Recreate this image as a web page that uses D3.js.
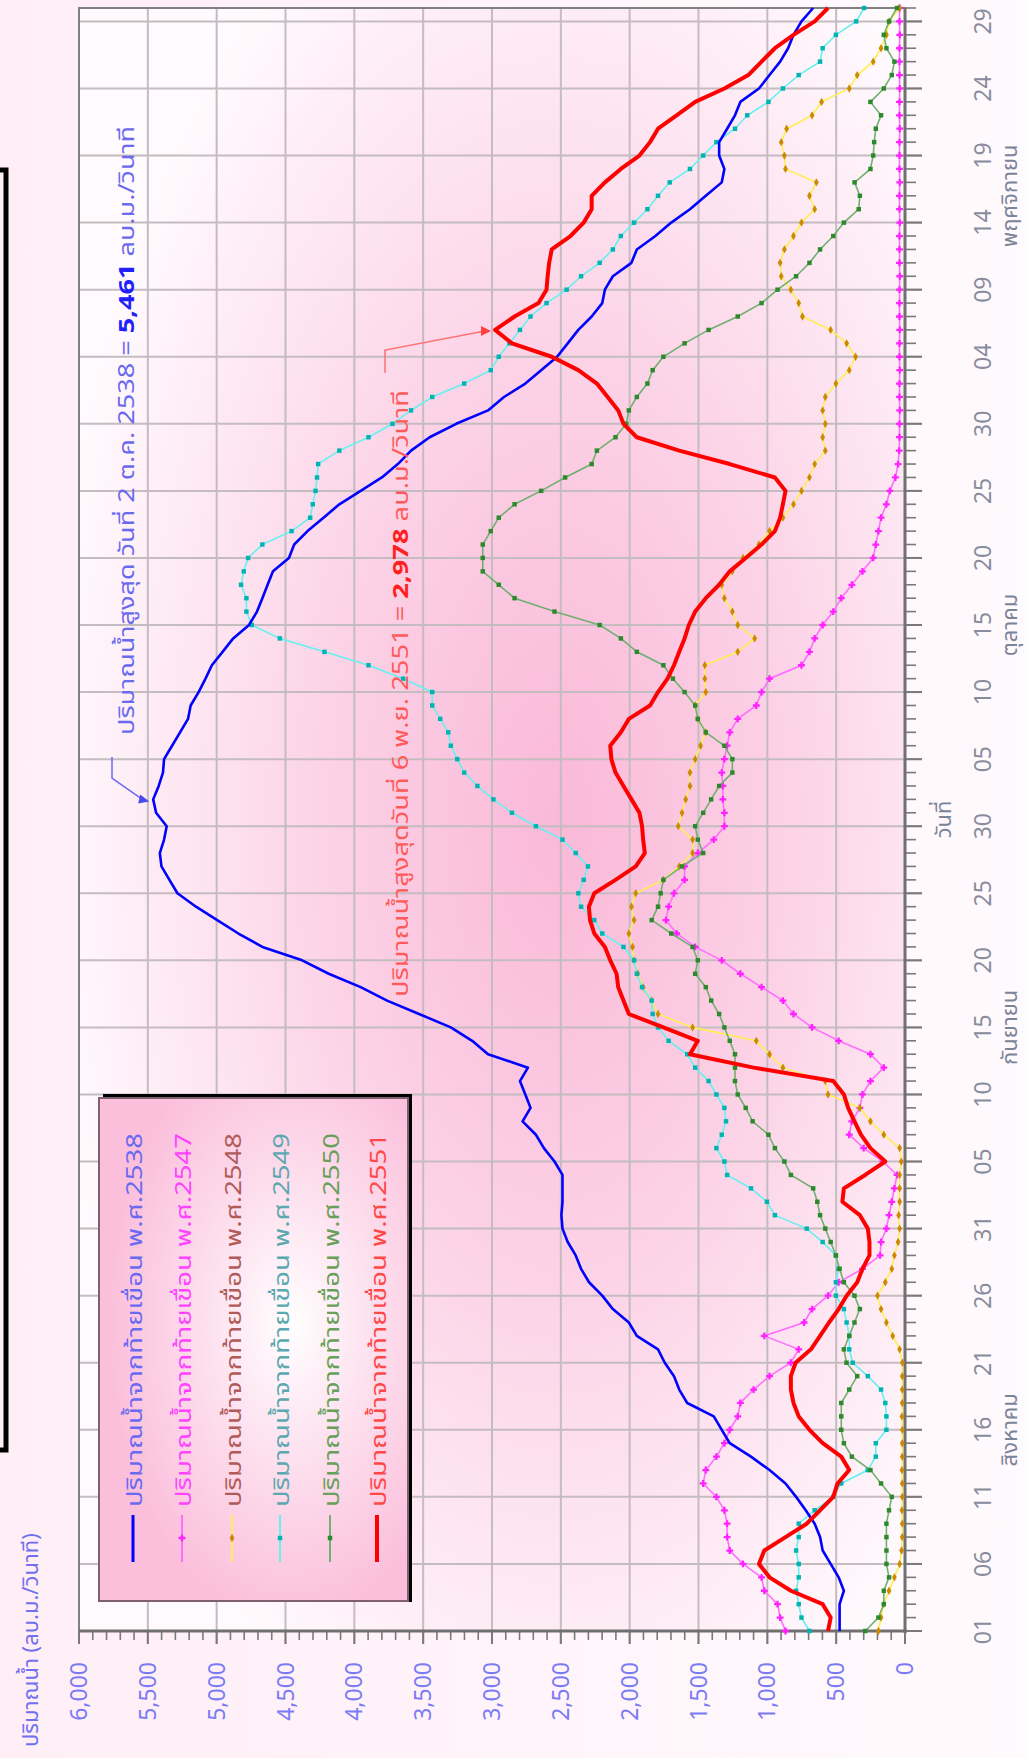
<!DOCTYPE html>
<html>
<head>
<meta charset="utf-8">
<script src="https://cdn.jsdelivr.net/npm/d3@7"></script>
<style>
  body { margin: 0; background: #fff7fb; }
  svg { display: block; }
  text { font-family: Tahoma, "Noto Sans Thai", "Noto Sans", "DejaVu Sans", sans-serif; }
</style>
</head>
<body>
<svg id="chart"></svg>
<script>
// Page size
const width = 1028;
const height = 1758;

// Series: daily discharge below the dam, index 0 = 1 Aug ... 121 = 30 Nov
const q2538 = [475, 475, 475, 444, 482, 540, 598, 617, 656, 721,
  791, 868, 984, 1119, 1273, 1331, 1389, 1582, 1640, 1678,
  1745, 1794, 1948, 2006, 2122, 2199, 2295, 2353, 2392, 2450,
  2488, 2496, 2488, 2488, 2488, 2546, 2623, 2681, 2778, 2720,
  2758, 2797, 2739, 3029, 3144, 3299, 3530, 3762, 3954, 4186,
  4379, 4668, 4842, 4996, 5150, 5285, 5343, 5401, 5413, 5382,
  5363, 5440, 5461, 5421, 5390, 5382, 5324, 5266, 5208, 5189,
  5131, 5081, 5035, 4957, 4880, 4765, 4707, 4668, 4630, 4591,
  4475, 4437, 4340, 4224, 4109, 3954, 3800, 3684, 3588, 3453,
  3260, 3029, 2913, 2758, 2643, 2527, 2450, 2373, 2276, 2199,
  2180, 2122, 1987, 1948, 1813, 1698, 1562, 1447, 1331, 1312,
  1350, 1350, 1292, 1235, 1196, 1061, 984, 907, 849, 810,
  752, 667];
const q2547 = [868, 907, 926, 1022, 1042, 1177, 1273, 1292, 1292, 1312,
  1370, 1466, 1447, 1370, 1312, 1273, 1215, 1196, 1100, 984,
  830, 772, 1022, 733, 675, 559, 482, 309, 181, 174,
  135, 116, 96, 77, 58, 160, 300, 405, 386, 328,
  309, 251, 154, 251, 482, 675, 810, 887, 1042, 1196,
  1331, 1524, 1659, 1736, 1717, 1678, 1601, 1601, 1505, 1389,
  1312, 1312, 1323, 1323, 1331, 1312, 1292, 1273, 1215, 1080,
  1042, 984, 752, 694, 656, 598, 521, 463, 386, 309,
  231, 212, 193, 174, 135, 110, 70, 50, 42, 40,
  40, 38, 40, 40, 38, 40, 40, 38, 40, 40,
  40, 38, 40, 40, 40, 38, 40, 40, 38, 40,
  40, 40, 38, 40, 40, 38, 40, 40, 40, 38,
  40, 40];
const q2548 = [193, 174, 154, 116, 77, 39, 25, 20, 20, 22,
  20, 20, 22, 20, 20, 20, 22, 20, 20, 20,
  19, 39, 89, 135, 174, 200, 143, 96, 77, 50,
  39, 46, 39, 39, 39, 27, 39, 154, 251, 328,
  559, 579, 887, 984, 1080, 1543, 1794, 1840, 1902, 1941,
  1968, 1979, 2006, 1968, 1987, 1956, 1755, 1640, 1543, 1543,
  1647, 1620, 1593, 1562, 1562, 1524, 1485, 1447, 1505, 1524,
  1447, 1454, 1454, 1215, 1092, 1215, 1254, 1312, 1331, 1254,
  1177, 1061, 984, 887, 810, 752, 694, 656, 579, 598,
  579, 598, 579, 502, 405, 359, 424, 540, 745, 772,
  829, 899, 907, 876, 810, 752, 656, 694, 644, 868,
  876, 899, 860, 675, 606, 405, 347, 231, 174, 135,
  116, 39];
const q2549 = [694, 752, 772, 791, 772, 772, 791, 772, 772, 656,
  521, 463, 270, 212, 212, 135, 135, 143, 174, 270,
  380, 405, 405, 424, 444, 502, 502, 482, 502, 598,
  714, 945, 1003, 1119, 1292, 1312, 1370, 1331, 1300, 1312,
  1370, 1427, 1524, 1582, 1717, 1794, 1833, 1840, 1910, 1948,
  1968, 2045, 2199, 2257, 2353, 2373, 2334, 2303, 2392, 2488,
  2681, 2855, 2990, 3106, 3202, 3252, 3299, 3318, 3376, 3434,
  3434, 3646, 3897, 4217, 4541, 4745, 4784, 4784, 4823, 4803,
  4772, 4668, 4456, 4321, 4302, 4282, 4271, 4263, 4109, 3897,
  3723, 3588, 3434, 3202, 3009, 2951, 2874, 2797, 2720, 2604,
  2458, 2353, 2218, 2122, 2064, 1968, 1871, 1794, 1709, 1562,
  1466, 1370, 1235, 1146, 992, 887, 772, 617, 598, 502,
  355, 297];
const q2550 = [289, 193, 154, 154, 116, 135, 135, 135, 135, 116,
  96, 174, 251, 386, 444, 463, 463, 463, 405, 347,
  425, 444, 405, 367, 328, 367, 444, 475, 502, 540,
  579, 617, 637, 667, 829, 876, 945, 992, 1107, 1157,
  1215, 1235, 1235, 1235, 1273, 1312, 1350, 1408, 1447, 1524,
  1505, 1543, 1698, 1840, 1794, 1775, 1755, 1620, 1466, 1505,
  1524, 1466, 1408, 1350, 1254, 1254, 1312, 1447, 1505, 1524,
  1601, 1686, 1755, 1948, 2064, 2218, 2546, 2836, 2951, 3067,
  3067, 3067, 3009, 2951, 2836, 2643, 2469, 2276, 2238, 2103,
  2025, 2006, 1948, 1871, 1833, 1755, 1601, 1427, 1215, 1042,
  926, 791, 694, 617, 521, 444, 336, 328, 366, 251,
  231, 224, 212, 174, 251, 154, 96, 77, 135, 154,
  116, 58];
const q2551 = [559, 540, 598, 829, 984, 1061, 1022, 868, 714, 617,
  521, 490, 405, 463, 598, 694, 772, 810, 829, 829,
  795, 683, 617, 552, 482, 424, 347, 309, 258, 258,
  270, 328, 455, 444, 289, 143, 251, 320, 367, 413,
  444, 521, 1100, 1562, 1505, 1755, 2006, 2045, 2083, 2095,
  2141, 2180, 2257, 2288, 2296, 2257, 2103, 1956, 1890, 1902,
  1910, 1929, 1987, 2045, 2103, 2133, 2141, 2064, 2006, 1852,
  1794, 1725, 1678, 1640, 1601, 1570, 1524, 1447, 1350, 1273,
  1157, 1042, 945, 907, 887, 868, 945, 1273, 1640, 1948,
  2045, 2083, 2160, 2238, 2373, 2566, 2855, 2978, 2836, 2662,
  2604, 2596, 2585, 2566, 2430, 2334, 2276, 2276, 2180, 2064,
  1929, 1852, 1794, 1659, 1524, 1312, 1138, 1042, 945, 810,
  656, 559];

// Tick labels (one every 5 days)
const dayTickLabels = ["01", "06", "11", "16", "21", "26", "31",
  "05", "10", "15", "20", "25", "30",
  "05", "10", "15", "20", "25", "30",
  "04", "09", "14", "19", "24", "29"];
const monthNames = ["สิงหาคม", "กันยายน", "ตุลาคม", "พฤศจิกายน"];
const monthCenters = [15, 45, 75, 107];
const valueTicks = [0, 500, 1000, 1500, 2000, 2500, 3000, 3500, 4000, 4500, 5000, 5500, 6000];
const seriesNames = ["ปริมาณน้ำจากท้ายเขื่อน พ.ศ.2538", "ปริมาณน้ำจากท้ายเขื่อน พ.ศ.2547",
  "ปริมาณน้ำจากท้ายเขื่อน พ.ศ.2548", "ปริมาณน้ำจากท้ายเขื่อน พ.ศ.2549",
  "ปริมาณน้ำจากท้ายเขื่อน พ.ศ.2550", "ปริมาณน้ำจากท้ายเขื่อน พ.ศ.2551"];

// Styles per series (line colour, marker colour, width, marker)
const styles = [
  { data: q2538, line: "#0000ff", mark: null, w: 2.6, text: "#6a6af0" },
  { data: q2547, line: "#ff6eff", mark: "#ff22ff", w: 1.6, text: "#ff44ff", sym: d3.symbolCross },
  { data: q2548, line: "#ffee55", mark: "#cc8a00", w: 1.6, text: "#b05a5a", sym: d3.symbolDiamond },
  { data: q2549, line: "#66f0f0", mark: "#00b4b4", w: 1.6, text: "#5aa8b0", sym: d3.symbolSquare },
  { data: q2550, line: "#70b070", mark: "#2c8a2c", w: 1.6, text: "#66a05a", sym: d3.symbolSquare },
  { data: q2551, line: "#ff0000", mark: null, w: 4, text: "#ff4848" }
];

const svg = d3.select("#chart").attr("width", width).attr("height", height);

// Plot box (chart is drawn rotated: values run right-to-left, days run bottom-to-top)
const plot = { left: 79, right: 905, top: 8, bottom: 1631 };

const xScale = d3.scaleLinear().domain([0, 6000]).range([plot.right, plot.left]);
const yScale = d3.scaleLinear().domain([0, 121]).range([plot.bottom, plot.top]);

const defs = svg.append("defs");
const pageGrad = defs.append("linearGradient").attr("id", "pageGrad")
  .attr("x1", 0).attr("x2", 1).attr("y1", 0).attr("y2", 0);
pageGrad.append("stop").attr("offset", "0%").attr("stop-color", "#ffeef6");
pageGrad.append("stop").attr("offset", "100%").attr("stop-color", "#fffafd");

const plotGrad = defs.append("radialGradient").attr("id", "plotGrad")
  .attr("cx", "0.58").attr("cy", "0.5").attr("r", "0.62");
plotGrad.append("stop").attr("offset", "0%").attr("stop-color", "#fab8d8");
plotGrad.append("stop").attr("offset", "45%").attr("stop-color", "#fcd2e6");
plotGrad.append("stop").attr("offset", "100%").attr("stop-color", "#fffafd");

const legGrad = defs.append("radialGradient").attr("id", "legGrad")
  .attr("cx", "0.62").attr("cy", "0.45").attr("r", "0.6");
legGrad.append("stop").attr("offset", "0%").attr("stop-color", "#ffffff");
legGrad.append("stop").attr("offset", "45%").attr("stop-color", "#fde0ee");
legGrad.append("stop").attr("offset", "100%").attr("stop-color", "#fbbedb");

// Backgrounds
svg.append("rect").attr("width", width).attr("height", height).attr("fill", "url(#pageGrad)");
svg.append("rect")
  .attr("x", plot.left).attr("y", plot.top)
  .attr("width", plot.right - plot.left).attr("height", plot.bottom - plot.top)
  .attr("fill", "url(#plotGrad)");

// Black frame piece on the far left
svg.append("rect").attr("x", -40).attr("y", 170).attr("width", 46).attr("height", 1280)
  .attr("fill", "none").attr("stroke", "#000").attr("stroke-width", 5);

// Grid lines
const dayMajor = d3.range(0, 121, 5);
svg.append("g").selectAll("line").data(dayMajor).enter().append("line")
  .attr("x1", plot.left).attr("x2", plot.right + 17)
  .attr("y1", d => yScale(d)).attr("y2", d => yScale(d))
  .attr("stroke", "#c4bcc0").attr("stroke-width", 2);
svg.append("g").selectAll("line").data(valueTicks).enter().append("line")
  .attr("x1", d => xScale(d)).attr("x2", d => xScale(d))
  .attr("y1", plot.top).attr("y2", plot.bottom + 13)
  .attr("stroke", "#c4bcc0").attr("stroke-width", 2);

// Minor ticks
svg.append("g").selectAll("line").data(d3.range(0, 122).filter(d => d % 5 !== 0)).enter().append("line")
  .attr("x1", plot.right).attr("x2", plot.right + 11)
  .attr("y1", d => yScale(d)).attr("y2", d => yScale(d))
  .attr("stroke", "#7a7a7a").attr("stroke-width", 1.6);
svg.append("g").selectAll("line").data(d3.range(0, 6001, 100).filter(d => d % 500 !== 0)).enter().append("line")
  .attr("x1", d => xScale(d)).attr("x2", d => xScale(d))
  .attr("y1", plot.bottom).attr("y2", plot.bottom + 9)
  .attr("stroke", "#7a7a7a").attr("stroke-width", 1.6);
svg.append("g").selectAll("line").data(dayMajor).enter().append("line")
  .attr("x1", plot.right).attr("x2", plot.right + 17)
  .attr("y1", d => yScale(d)).attr("y2", d => yScale(d))
  .attr("stroke", "#7a7a7a").attr("stroke-width", 2);
svg.append("g").selectAll("line").data(valueTicks).enter().append("line")
  .attr("x1", d => xScale(d)).attr("x2", d => xScale(d))
  .attr("y1", plot.bottom).attr("y2", plot.bottom + 13)
  .attr("stroke", "#7a7a7a").attr("stroke-width", 2);

// Frame and axes
svg.append("rect")
  .attr("x", plot.left).attr("y", plot.top)
  .attr("width", plot.right - plot.left).attr("height", plot.bottom - plot.top)
  .attr("fill", "none").attr("stroke", "#808080").attr("stroke-width", 2);
svg.append("line").attr("x1", plot.right).attr("x2", plot.right)
  .attr("y1", plot.top).attr("y2", plot.bottom + 2)
  .attr("stroke", "#707070").attr("stroke-width", 3);
svg.append("line").attr("x1", plot.left).attr("x2", plot.right + 2)
  .attr("y1", plot.bottom).attr("y2", plot.bottom)
  .attr("stroke", "#707070").attr("stroke-width", 3);

// Value labels (rotated)
svg.append("g").selectAll("text").data(valueTicks).enter().append("text")
  .attr("transform", d => `translate(${xScale(d) + 8},${plot.bottom + 31}) rotate(-90)`)
  .attr("text-anchor", "end")
  .attr("font-size", 23)
  .attr("fill", "#7b7bf5")
  .text(d3.format(","));

// Day labels
svg.append("g").selectAll("text").data(dayTickLabels).enter().append("text")
  .attr("transform", (d, i) => `translate(${plot.right + 86},${yScale(i * 5)}) rotate(-90)`)
  .attr("text-anchor", "middle")
  .attr("font-size", 23)
  .attr("fill", "#8a8c9c")
  .text(d => d);

// Month names
svg.append("g").selectAll("text").data(monthNames).enter().append("text")
  .attr("transform", (d, i) => `translate(${plot.right + 112},${yScale(monthCenters[i])}) rotate(-90)`)
  .attr("text-anchor", "middle")
  .attr("font-size", 22)
  .attr("fill", "#7c8498")
  .text(d => d);

svg.append("text")
  .attr("transform", `translate(${plot.right + 46},${yScale(60.5)}) rotate(-90)`)
  .attr("text-anchor", "middle")
  .attr("font-size", 22)
  .attr("fill", "#7c8498")
  .text("วันที่");

// Axis title
svg.append("text")
  .attr("transform", `translate(38,1747) rotate(-90)`)
  .attr("font-size", 22)
  .attr("fill", "#7070f0")
  .text("ปริมาณน้ำ (ลบ.ม./วินาที)");

// Lines
const line = d3.line().x(d => xScale(d)).y((d, i) => yScale(i));

styles.forEach((s, k) => {
  if (!s.mark) return;
  svg.append("path").datum(s.data).attr("d", line)
    .attr("fill", "none").attr("stroke", s.line).attr("stroke-width", s.w);
  svg.append("g").selectAll("path").data(s.data).enter().append("path")
    .attr("transform", (d, i) => `translate(${xScale(d)},${yScale(i)})`)
    .attr("d", d3.symbol().type(s.sym).size(k === 1 ? 26 : 20))
    .attr("fill", s.mark);
});
[0, 5].forEach(k => {
  const s = styles[k];
  svg.append("path").datum(s.data).attr("d", line)
    .attr("fill", "none").attr("stroke", s.line).attr("stroke-width", s.w)
    .attr("stroke-linejoin", "round");
});

// Annotations
const blueNote = svg.append("text")
  .attr("transform", "translate(134,735) rotate(-90)")
  .attr("font-size", 22).attr("fill", "#6a6af0")
  .attr("textLength", 609).attr("lengthAdjust", "spacingAndGlyphs");
blueNote.append("tspan").text("ปริมาณน้ำสูงสุด วันที่ 2 ต.ค. 2538 = ");
blueNote.append("tspan").attr("font-weight", "bold").attr("fill", "#2020ff").text("5,461");
blueNote.append("tspan").text(" ลบ.ม./วินาที");

svg.append("polyline")
  .attr("points", `112,757 112,778 ${xScale(5461) - 8},${yScale(62) + 2}`)
  .attr("fill", "none").attr("stroke", "#6a6af0").attr("stroke-width", 1.5);
svg.append("path")
  .attr("d", `M${xScale(5461) - 4},${yScale(62) + 2} l-9,-7 l-2,9 z`)
  .attr("fill", "#4a4af0");

const redNote = svg.append("text")
  .attr("transform", "translate(408,997) rotate(-90)")
  .attr("font-size", 22).attr("fill", "#ff5a5a")
  .attr("textLength", 607).attr("lengthAdjust", "spacingAndGlyphs");
redNote.append("tspan").text("ปริมาณน้ำสูงสุดวันที่ 6 พ.ย. 2551 = ");
redNote.append("tspan").attr("font-weight", "bold").attr("fill", "#ff2020").text("2,978");
redNote.append("tspan").text(" ลบ.ม./วินาที");

svg.append("polyline")
  .attr("points", `385,373 385,350 ${xScale(2978) - 10},${yScale(97) + 1}`)
  .attr("fill", "none").attr("stroke", "#ff7070").attr("stroke-width", 1.5);
svg.append("path")
  .attr("d", `M${xScale(2978) - 4},${yScale(97) + 1} l-10,-5 l0,10 z`)
  .attr("fill", "#ff4040");

// Legend
const legend = svg.append("g");
legend.append("rect").attr("x", 103).attr("y", 1094).attr("width", 309).attr("height", 508)
  .attr("fill", "#000");
legend.append("rect").attr("x", 99).attr("y", 1098).attr("width", 309).attr("height", 503)
  .attr("fill", "url(#legGrad)").attr("stroke", "#806070").attr("stroke-width", 2);

const legX = [133, 182, 232, 280, 330, 377];
styles.forEach((s, k) => {
  legend.append("line")
    .attr("x1", legX[k]).attr("x2", legX[k]).attr("y1", 1515).attr("y2", 1562)
    .attr("stroke", s.line).attr("stroke-width", s.mark ? 2 : (k === 5 ? 4 : 3));
  if (s.mark) {
    legend.append("path").attr("transform", `translate(${legX[k]},1538)`)
      .attr("d", d3.symbol().type(s.sym).size(k === 1 ? 26 : 20))
      .attr("fill", s.mark);
  }
  legend.append("text")
    .attr("transform", `translate(${legX[k] + 9},1507) rotate(-90)`)
    .attr("font-size", 21).attr("fill", s.text)
    .attr("textLength", 374).attr("lengthAdjust", "spacingAndGlyphs")
    .text(seriesNames[k]);
});
</script>
</body>
</html>
